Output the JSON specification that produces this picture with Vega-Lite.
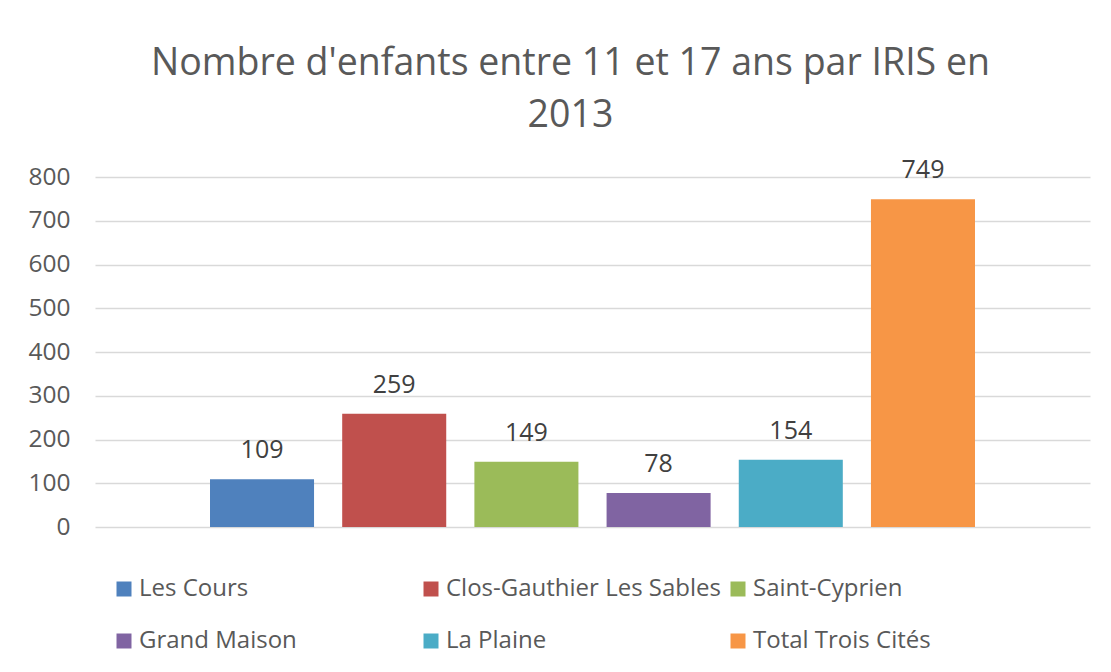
{
  "$schema": "https://vega.github.io/schema/vega-lite/v6.json",
  "width": 995,
  "height": 350,
  "autosize": "none",
  "padding": {"left": 95, "top": 177, "right": 21, "bottom": 145},
  "background": "white",
  "title": {
    "text": ["Nombre d'enfants entre 11 et 17 ans par IRIS en", "2013"],
    "font": "Open Sans",
    "fontSize": 37.5,
    "fontWeight": "normal",
    "color": "#595959",
    "lineHeight": 52,
    "anchor": "middle",
    "dx": -22,
    "offset": 24
  },
  "data": {
    "values": [
      {"iris": "Les Cours", "enfants": 109},
      {"iris": "Clos-Gauthier Les Sables", "enfants": 259},
      {"iris": "Saint-Cyprien", "enfants": 149},
      {"iris": "Grand Maison", "enfants": 78},
      {"iris": "La Plaine", "enfants": 154},
      {"iris": "Total Trois Cités", "enfants": 749}
    ]
  },
  "encoding": {
    "x": {
      "field": "iris",
      "type": "nominal",
      "sort": null,
      "axis": null,
      "scale": {"paddingInner": 0.213, "paddingOuter": 0.87}
    },
    "y": {
      "field": "enfants",
      "type": "quantitative",
      "scale": {"domain": [0, 800], "nice": false},
      "axis": {
        "title": null,
        "values": [0, 100, 200, 300, 400, 500, 600, 700, 800],
        "domain": false,
        "ticks": false,
        "labelPadding": 25,
        "labelFont": "Open Sans",
        "labelFontSize": 24.5,
        "labelColor": "#595959",
        "gridColor": "#d9d9d9",
        "gridWidth": 1.3
      }
    }
  },
  "layer": [
    {
      "mark": {"type": "bar"},
      "encoding": {
        "color": {
          "field": "iris",
          "type": "nominal",
          "sort": null,
          "scale": {
            "domain": ["Les Cours", "Clos-Gauthier Les Sables", "Saint-Cyprien", "Grand Maison", "La Plaine", "Total Trois Cités"],
            "range": ["#4F81BD", "#C0504D", "#9BBB59", "#8064A2", "#4BACC6", "#F79646"]
          },
          "legend": {
            "title": null,
            "orient": "none",
            "legendX": 17,
            "legendY": 400,
            "direction": "horizontal",
            "columns": 3,
            "gridAlign": "all",
            "columnPadding": 5,
            "rowPadding": 28,
            "symbolType": "square",
            "symbolSize": 225,
            "symbolStrokeWidth": 0,
            "symbolOpacity": 1,
            "labelOffset": 3,
            "labelFont": "Open Sans",
            "labelFontSize": 24,
            "labelColor": "#595959",
            "labelLimit": 400
          }
        }
      }
    },
    {
      "mark": {
        "type": "text",
        "baseline": "alphabetic",
        "dy": -21,
        "font": "Open Sans",
        "fontSize": 25,
        "color": "#404040"
      },
      "encoding": {
        "text": {"field": "enfants", "type": "quantitative"}
      }
    }
  ],
  "config": {
    "view": {"stroke": null}
  }
}
